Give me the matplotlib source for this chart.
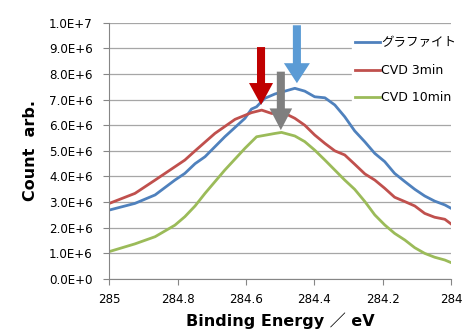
import matplotlib
matplotlib.use('Agg')
import matplotlib.pyplot as plt

plt.rcParams['font.family'] = ['DejaVu Sans', 'Noto Sans CJK JP']

# binding energy (eV) and counts (x1e6)
e_blue = [285.00, 284.925, 284.866, 284.808, 284.779, 284.749, 284.72, 284.662, 284.603,
          284.584, 284.569, 284.545, 284.515, 284.457, 284.428, 284.399, 284.369, 284.34,
          284.311, 284.282, 284.252, 284.223, 284.194, 284.165, 284.135, 284.106, 284.077,
          284.048, 284.018, 284.00]
v_blue = [2.69, 2.95, 3.28, 3.86, 4.12, 4.5, 4.77, 5.55, 6.27,
          6.63, 6.72, 7.05, 7.22, 7.44, 7.33, 7.11, 7.07, 6.79,
          6.33, 5.78, 5.35, 4.9, 4.58, 4.12, 3.8, 3.5, 3.24,
          3.04, 2.89, 2.76]

e_red = [285.00, 284.925, 284.866, 284.808, 284.779, 284.749, 284.691, 284.632, 284.584,
         284.554, 284.525, 284.486, 284.457, 284.428, 284.399, 284.369, 284.34, 284.311,
         284.282, 284.252, 284.223, 284.194, 284.165, 284.135, 284.106, 284.077, 284.048,
         284.018, 284.00]
v_red = [2.95, 3.34, 3.86, 4.38, 4.64, 5.0, 5.68, 6.23, 6.49,
         6.59, 6.46, 6.46, 6.27, 6.0, 5.62, 5.29, 5.0, 4.84,
         4.48, 4.1, 3.86, 3.54, 3.19, 3.02, 2.85, 2.56, 2.41,
         2.33, 2.15]

e_green = [285.00, 284.925, 284.866, 284.808, 284.779, 284.749, 284.72, 284.662, 284.603,
           284.569, 284.515, 284.496, 284.457, 284.428, 284.399, 284.369, 284.34, 284.311,
           284.282, 284.252, 284.223, 284.194, 284.165, 284.135, 284.106, 284.077, 284.048,
           284.018, 284.00]
v_green = [1.07, 1.37, 1.65, 2.1, 2.43, 2.85, 3.34, 4.25, 5.1,
           5.55, 5.68, 5.72, 5.58, 5.36, 5.03, 4.64, 4.25, 3.86,
           3.5, 3.02, 2.5, 2.11, 1.78, 1.52, 1.22, 1.0, 0.85,
           0.74, 0.64]

labels = ['グラファイト', 'CVD 3min', 'CVD 10min']

# arrows: (x, top, tip) in eV / counts x1e6
arrow_red = (284.556, 9.05, 6.79)
arrow_blue = (284.451, 9.9, 7.64)
arrow_gray = (284.498, 8.09, 5.81)

yticks = [i * 1e6 for i in range(11)]
ytick_labels = ['0.0E+0', '1.0E+6', '2.0E+6', '3.0E+6', '4.0E+6', '5.0E+6',
                '6.0E+6', '7.0E+6', '8.0E+6', '9.0E+6', '1.0E+7']
xticks = [285, 284.8, 284.6, 284.4, 284.2, 284]
xtick_labels = ['285', '284.8', '284.6', '284.4', '284.2', '284']

fig = plt.figure(figsize=(4.66, 3.34), dpi=100)
ax = fig.add_axes([0.2346, 0.1647, 0.7332, 0.7673])

ax.plot(e_blue, [v * 1e6 for v in v_blue], color='#4F81BD', lw=2, label=labels[0])
ax.plot(e_red, [v * 1e6 for v in v_red], color='#C0504D', lw=2, label=labels[1])
ax.plot(e_green, [v * 1e6 for v in v_green], color='#9BBB59', lw=2, label=labels[2])

def draw_arrow(a, color, hl, hw):
    x, top, tip = a
    ax.annotate('', xy=(x, tip * 1e6), xytext=(x, top * 1e6),
                arrowprops=dict(arrowstyle='simple,head_length=%g,head_width=%g,tail_width=5.8' % (hl, hw),
                                color=color, shrinkA=0, shrinkB=0, mutation_scale=1, lw=0),
                zorder=5)

draw_arrow(arrow_red, '#C00000', 15.8, 17.3)
draw_arrow(arrow_blue, '#5B9BD5', 14.4, 18.7)
draw_arrow(arrow_gray, '#7F7F7F', 15.6, 16.3)

ax.set_xlim(285, 284)
ax.set_ylim(0, 1e7)
ax.set_yticks(yticks)
ax.set_yticklabels(ytick_labels)
ax.set_xticks(xticks)
ax.set_xticklabels(xtick_labels)
ax.tick_params(axis='both', labelsize=8.6, color='#868686', length=4, direction='out')
ax.tick_params(axis='y', pad=8)
ax.tick_params(axis='x', pad=6)

ax.grid(axis='y', color='#A6A6A6', lw=0.9)
ax.set_axisbelow(True)
for s in ['top', 'right']:
    ax.spines[s].set_visible(False)
for s in ['left', 'bottom']:
    ax.spines[s].set_color('#868686')

ax.set_xlabel('Binding Energy ／ eV', fontsize=11.5, fontweight='bold', labelpad=5)
ax.set_ylabel('Count  arb.', fontsize=11.5, fontweight='bold', labelpad=8)

leg = fig.legend(loc='upper left', bbox_to_anchor=(352 / 466, 1 - 34 / 334),
                 frameon=True, fontsize=9, handlelength=2.0, handletextpad=0.12,
                 labelspacing=1.15, borderpad=0.2, borderaxespad=0)
leg.get_frame().set_facecolor('white')
leg.get_frame().set_edgecolor('white')
leg.get_frame().set_alpha(1)

fig.savefig('out.png', dpi=100)
